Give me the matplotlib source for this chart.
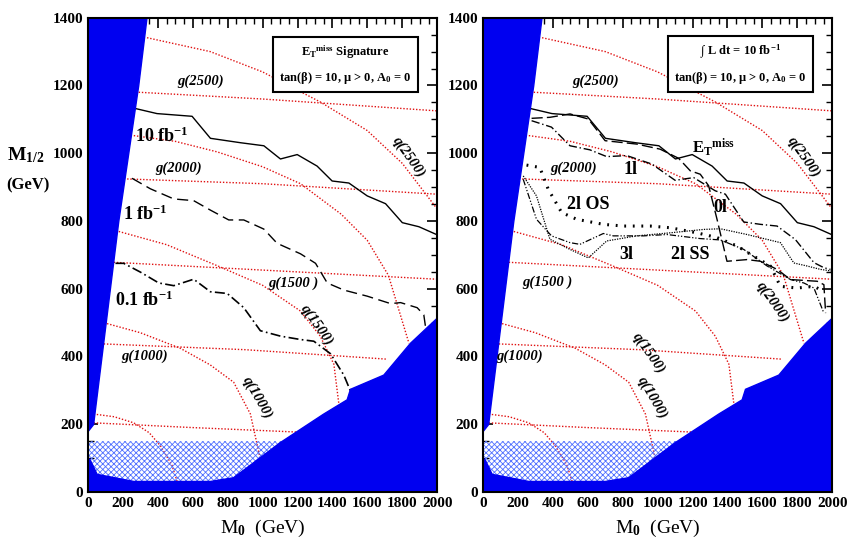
import matplotlib
matplotlib.use("Agg")
import matplotlib.pyplot as plt
from matplotlib.patches import Polygon
from matplotlib.ticker import MultipleLocator

plt.rcParams['font.family'] = 'Liberation Serif'
plt.rcParams['font.weight'] = 'bold'
plt.rcParams['mathtext.fontset'] = 'custom'
plt.rcParams['mathtext.rm'] = 'Liberation Serif:bold'
plt.rcParams['mathtext.it'] = 'Liberation Serif:bold'
plt.rcParams['mathtext.bf'] = 'Liberation Serif:bold'

# Excluded regions
wedge_x = [0, 32, 176, 290, 338]
wedge_y = [178, 199, 798, 1198, 1400]
bottom_x = [0, 13, 52, 262, 701, 834, 1102, 1350, 1484, 1503, 1694, 1847, 2000]
bottom_y = [100, 94, 52, 31, 31, 42, 146, 230, 272, 303, 345, 439, 513]
hatch_top = 150
hatch_xmax = 1112

# Red dotted iso-mass curves
red_curves = {
    'g2500': ([290, 1000, 2000], [1180, 1160, 1125]),
    'q2500': ([338, 700, 1000, 1331, 1599, 1800, 1981, 2000], [1341, 1300, 1240, 1151, 1067, 970, 848, 835]),
    'q2000': ([262, 500, 739, 1000, 1217, 1450, 1599, 1720, 1838], [1052, 1035, 1004, 960, 910, 820, 743, 640, 439]),
    'g2000': ([224, 1000, 2000], [924, 910, 879]),
    'q1500': ([176, 450, 758, 1000, 1217, 1330, 1408, 1436], [769, 730, 664, 610, 534, 460, 377, 262]),
    'g1500': ([147, 1000, 2000], [678, 655, 628]),
    'q1000': ([109, 300, 529, 700, 834, 930, 988], [497, 470, 424, 375, 324, 230, 94]),
    'g1000': ([90, 900, 1713], [437, 420, 392]),
    'q500': ([32, 150, 262, 350, 415, 480, 510], [230, 222, 204, 175, 136, 80, 31]),
    'g500': ([32, 600, 1236], [204, 190, 176]),
}
red_labels = [('g(2500)', 644, 1212, 0), ('g(2000)', 520, 956, 0), ('g(1500 )', 1178, 617, 0),
              ('g(1000)', 323, 400, 0), ('q(2500)', 1838, 989, -55), ('q(1500)', 1312, 492, -55),
              ('q(1000)', 968, 277, -60)]
red_labels_r = [('g(2500)', 644, 1212, 0), ('g(2000)', 520, 956, 0), ('g(1500 )', 370, 620, 0),
                ('g(1000)', 210, 400, 0), ('q(2500)', 1838, 989, -55), ('q(1500)', 950, 410, -55),
                ('q(1000)', 968, 277, -60), ('q(2000)', 1660, 560, -55)]

# Left panel: E_T^miss reach
met10_x = [271, 395, 596, 701, 873, 1007, 1102, 1198, 1312, 1398, 1494, 1599, 1704, 1800, 1895, 2000]
met10_y = [1132, 1117, 1109, 1044, 1031, 1022, 983, 996, 962, 918, 912, 874, 851, 795, 783, 759]
met1_x = [252, 357, 491, 605, 701, 806, 892, 1007, 1083, 1217, 1303, 1370, 1465, 1599, 1733, 1790, 1885, 1923, 1933]
met1_y = [926, 895, 865, 860, 832, 803, 803, 776, 734, 703, 675, 617, 596, 578, 556, 559, 544, 523, 487]
met01_x = [157, 204, 300, 405, 491, 605, 701, 797, 892, 987, 1102, 1217, 1293, 1389, 1465, 1503]
met01_y = [675, 675, 649, 617, 609, 628, 591, 586, 544, 476, 460, 450, 445, 408, 345, 298]

# Right panel: channels at 10 fb^-1
l0_x = [278, 383, 498, 603, 699, 880, 1014, 1120, 1187, 1244, 1292, 1340, 1397, 1512, 1589, 1684, 1761, 1914, 1952, 1962]
l0_y = [1103, 1106, 1116, 1101, 1037, 1027, 1012, 985, 948, 938, 904, 805, 681, 686, 681, 657, 627, 622, 612, 528]
l1_x = [278, 392, 498, 612, 708, 823, 967, 1100, 1206, 1330, 1388, 1493, 1589, 1684, 1789, 1895, 1952, 1990]
l1_y = [1096, 1077, 1022, 1010, 990, 993, 968, 920, 928, 889, 879, 797, 790, 785, 745, 677, 662, 657]
os2_x = [249, 325, 373, 450, 536, 689, 804, 957, 1072, 1225, 1340, 1455, 1550, 1646, 1703, 1799, 1895, 1933]
os2_y = [965, 958, 894, 825, 805, 790, 785, 785, 780, 765, 751, 726, 696, 667, 607, 602, 607, 597]
l3_x = [230, 306, 392, 498, 555, 689, 746, 919, 1053, 1244, 1359, 1493, 1627, 1761, 1837, 1895, 1952]
l3_y = [923, 805, 756, 736, 731, 763, 756, 756, 760, 748, 744, 716, 667, 627, 617, 602, 528]
ss2_x = [230, 306, 383, 498, 603, 708, 880, 1072, 1263, 1359, 1512, 1703, 1780, 1856, 1933, 2000]
ss2_y = [933, 874, 746, 716, 691, 741, 756, 765, 775, 777, 760, 736, 676, 667, 657, 652]

BLUE = '#0000f0'


def base(ax, labels, box_lines):
    ax.set_xlim(0, 2000)
    ax.set_ylim(0, 1400)
    for name, (x, y) in red_curves.items():
        ax.plot(x, y, color='#e01010', ls=(0, (1, 1.3)), lw=1.0, zorder=2)
    ax.add_patch(Polygon(list(zip([0] + wedge_x, [1400] + wedge_y)) + [(0, 1400)],
                         closed=True, fc=BLUE, ec=BLUE, zorder=5))
    ax.add_patch(Polygon([(0, 0)] + list(zip(bottom_x, bottom_y)) + [(2000, 0)],
                         closed=True, fc=BLUE, ec=BLUE, zorder=5))
    hx = [0] + [x for x in bottom_x if x <= hatch_xmax] + [hatch_xmax]
    hy = [hatch_top] + [y for x, y in zip(bottom_x, bottom_y) if x <= hatch_xmax] + [hatch_top]
    plt.rcParams['hatch.linewidth'] = 0.6
    ax.add_patch(Polygon(list(zip(hx, hy)), closed=True, fc='none', ec='#5070ff',
                         hatch='xxxxxx', lw=0, zorder=3))
    for t, x, y, r in labels:
        ax.text(x, y, t, fontsize=10.5, ha='center', va='center', rotation=r,
                style='italic', zorder=6)
    ax.text(1475, 1262, box_lines[0] + '\n' + box_lines[1], fontsize=9, ha='center',
            va='center', linespacing=1.8, zorder=7,
            bbox=dict(boxstyle='square,pad=0.5', fc='white', ec='black', lw=1.5))
    ax.xaxis.set_major_locator(MultipleLocator(200))
    ax.xaxis.set_minor_locator(MultipleLocator(50))
    ax.yaxis.set_major_locator(MultipleLocator(200))
    ax.yaxis.set_minor_locator(MultipleLocator(50))
    ax.tick_params(which='both', direction='in', top=True, right=True, labelsize=11)
    ax.tick_params(which='major', length=7, width=1.2)
    ax.tick_params(which='minor', length=4, width=1)
    for s in ax.spines.values():
        s.set_linewidth(1.5)
        s.set_zorder(8)
    ax.set_xlabel(r'M$_0$  (GeV)', fontsize=14, labelpad=6)


fig = plt.figure(figsize=(8.58, 5.54), dpi=100)
axL = fig.add_axes([0.1026, 0.112, 0.407, 0.856])
axR = fig.add_axes([0.563, 0.112, 0.407, 0.856])

base(axL, red_labels, [r'E$_\mathrm{T}$$^{\mathrm{miss}}$ Signature', r'tan($\beta$) = 10, $\mu$ > 0, A$_0$ = 0'])
axL.plot(met10_x, met10_y, color='black', lw=1, zorder=4)
axL.plot(met1_x, met1_y, color='black', lw=1, ls=(0, (8, 4)), zorder=4)
axL.plot(met01_x, met01_y, color='black', lw=1.2, ls=(0, (6, 2, 1, 2)), zorder=4)
axL.text(420, 1050, r'10 fb$^{-1}$', fontsize=13, ha='center', va='center', zorder=6)
axL.text(330, 820, r'1 fb$^{-1}$', fontsize=13, ha='center', va='center', zorder=6)
axL.text(320, 565, r'0.1 fb$^{-1}$', fontsize=13, ha='center', va='center', zorder=6)

base(axR, red_labels_r, [r'$\int$ L dt = 10 fb$^{-1}$', r'tan($\beta$) = 10, $\mu$ > 0, A$_0$ = 0'])
axR.plot(met10_x, met10_y, color='black', lw=1, zorder=4)
axR.plot(l0_x, l0_y, color='black', lw=1, ls=(0, (8, 3)), zorder=4)
axR.plot(l1_x, l1_y, color='black', lw=1, ls=(0, (6, 2, 1, 2)), zorder=4)
axR.plot(os2_x, os2_y, color='black', lw=2.2, ls=(0, (0.6, 2.2)), zorder=4)
axR.plot(l3_x, l3_y, color='black', lw=0.9, ls=(0, (5, 1.5, 1, 1.5, 1, 1.5)), zorder=4)
axR.plot(ss2_x, ss2_y, color='black', lw=0.9, ls=(0, (1, 1)), zorder=4)
axR.text(1321, 1017, r'E$_\mathrm{T}$$^{\mathrm{miss}}$', fontsize=12, ha='center', va='center', zorder=6)
axR.text(842, 953, '1l', fontsize=13, ha='center', va='center', zorder=6)
axR.text(1359, 840, '0l', fontsize=13, ha='center', va='center', zorder=6)
axR.text(603, 849, '2l OS', fontsize=13, ha='center', va='center', zorder=6)
axR.text(823, 701, '3l', fontsize=13, ha='center', va='center', zorder=6)
axR.text(1187, 701, '2l SS', fontsize=13, ha='center', va='center', zorder=6)

fig.text(0.03, 0.72, r'M$_{1/2}$', fontsize=14, ha='center', va='center')
fig.text(0.033, 0.665, '(GeV)', fontsize=12, ha='center', va='center')

fig.savefig('out.png', dpi=100)
